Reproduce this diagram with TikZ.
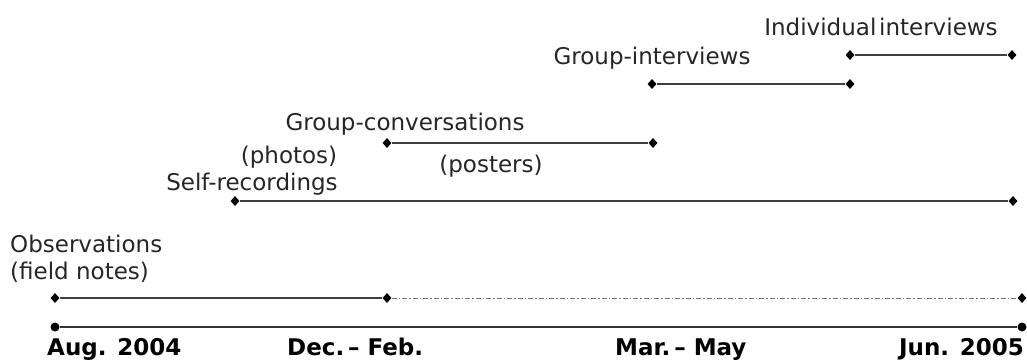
\documentclass[tikz,border=0pt]{standalone}
\usepackage{fontspec}
\setmainfont{DejaVu Sans}
\usetikzlibrary{shapes.geometric}
\begin{document}
\begin{tikzpicture}[x=1pt,y=-1pt,
  lbl/.style={font=\fontsize{23}{27}\selectfont, inner sep=0pt, text=black!85},
  datelbl/.style={font=\bfseries\fontsize{23}{27}\selectfont, inner sep=0pt, text=black},
  dia/.style={diamond, fill=black, inner sep=0pt, minimum width=9pt, minimum height=10pt},
  dot/.style={circle, fill=black, inner sep=0pt, minimum size=9pt},
  seg/.style={line width=1.4pt, draw=black!75},
  mainline/.style={line width=1.6pt, draw=black!80},
  dd/.style={line width=0.8pt, draw=black!55, dash pattern=on 5pt off 2pt on 1.5pt off 2pt}]
\useasboundingbox (0,0) rectangle (1027,361);
% main timeline
\node[dot] (t1) at (55,327) {};
\node[dot] (t2) at (1022,327) {};
\draw[mainline] (t1) -- (t2);
\node[datelbl, anchor=base west] (d1) at (47,355) {Aug. 2004};
\node[datelbl, anchor=base west] (d2) at (287,355) {Dec.\,– Feb.};
\node[datelbl, anchor=base west] (d3) at (615,355) {Mar.\,– May};
\node[datelbl, anchor=base east] (d4) at (1024,355) {Jun. 2005};
% observations
\node[dia] (o1) at (55,298) {};
\node[dia] (o2) at (387,298) {};
\node[dia] (o3) at (1022,298) {};
\draw[seg] (o1) -- (o2);
\draw[dd] (o2) -- (o3);
\node[lbl, anchor=base west] (ol1) at (10,252) {Observations};
\node[lbl, anchor=base west] (ol2) at (10,279) {(field notes)};
% self-recordings
\node[dia] (s1) at (235,201) {};
\node[dia] (s2) at (1013,201) {};
\draw[seg] (s1) -- (s2);
\node[lbl, anchor=base] (sl) at (252,190) {Self-recordings};
\node[lbl, anchor=base] (pl) at (289,163) {(photos)};
% group conversations
\node[dia] (g1) at (387,143) {};
\node[dia] (g2) at (653,143) {};
\draw[seg] (g1) -- (g2);
\node[lbl, anchor=base] (gl) at (405,130) {Group-conversations};
\node[lbl, anchor=base] (psl) at (491,172) {(posters)};
% group interviews
\node[dia] (gi1) at (652,84) {};
\node[dia] (gi2) at (850,84) {};
\draw[seg] (gi1) -- (gi2);
\node[lbl, anchor=base] (gil) at (652,64) {Group-interviews};
% individual interviews
\node[dia] (ii1) at (850,55) {};
\node[dia] (ii2) at (1012,55) {};
\draw[seg] (ii1) -- (ii2);
\node[lbl, anchor=base] (iil) at (881,36) {Individual\hspace{0.12em}interviews};
\end{tikzpicture}
\end{document}
